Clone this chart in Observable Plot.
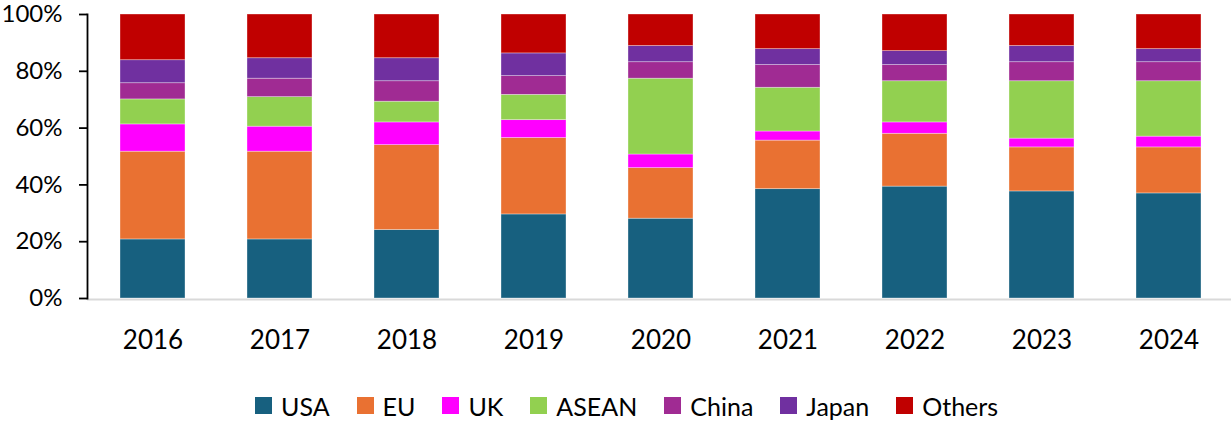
<!DOCTYPE html>
<html>
<head>
<meta charset="utf-8">
<script src="https://cdn.jsdelivr.net/npm/d3@7"></script>
<script src="https://cdn.jsdelivr.net/npm/@observablehq/plot@0.6"></script>
<style>
  html, body { margin: 0; padding: 0; background: #fff; }
  body { width: 1231px; height: 421px; overflow: hidden; font-family: Lato, "Open Sans", sans-serif; }
  #legend { display: flex; align-items: center; height: 59px; margin-top: 14px; padding-left: 255px; box-sizing: border-box; font-size: 25px; color: #000; }
  .item { display: flex; align-items: center; margin-right: 27px; }
  .sw { width: 17px; height: 17px; margin-right: 9px; }
</style>
</head>
<body>
<div id="chart"></div>
<div id="legend"></div>
<script>
const years = ["2016","2017","2018","2019","2020","2021","2022","2023","2024"];
const seriesNames = ["USA","EU","UK","ASEAN","China","Japan","Others"];
const colors = ["#17607f","#e97132","#ff00ff","#92d050","#a02b93","#7030a0","#c00000"];
const USA    = [20.8, 20.8, 24.1, 29.6, 28.1, 38.5, 39.4, 37.7, 37.0];
const EU     = [30.9, 30.9, 29.9, 26.9, 17.8, 17.1, 18.6, 15.5, 16.2];
const UK     = [ 9.6,  8.8,  8.0,  6.3,  4.8,  3.2,  4.0,  3.1,  3.8];
const ASEAN  = [ 8.8, 10.4,  7.3,  8.9, 26.7, 15.4, 14.5, 20.2, 19.5];
const China  = [ 5.7,  6.5,  7.2,  6.6,  5.8,  8.0,  5.7,  6.7,  6.7];
const Japan  = [ 8.1,  7.2,  8.1,  8.0,  5.7,  5.6,  4.9,  5.7,  4.6];
const Others = [16.1, 15.4, 15.4, 13.7, 11.1, 12.2, 12.9, 11.1, 12.2];
const yTicks = [0, 0.2, 0.4, 0.6, 0.8, 1];

const valuesBySeries = [USA, EU, UK, ASEAN, China, Japan, Others];
const data = [];
seriesNames.forEach((s, i) => {
  years.forEach((y, j) => data.push({year: y, series: s, value: valuesBySeries[i][j]}));
});

const chart = Plot.plot({
  width: 1231,
  height: 362,
  marginTop: 14,
  marginBottom: 64,
  marginLeft: 87,
  marginRight: -3,
  style: {fontFamily: "Lato, 'Open Sans', sans-serif", color: "#000", background: "#fff", overflow: "visible"},
  x: {domain: years, paddingInner: 0.49, paddingOuter: 0.245, align: 0.5, label: null},
  y: {domain: [0, 1], label: null},
  color: {domain: seriesNames, range: colors},
  marks: [
    Plot.barY(data, Plot.stackY({offset: "normalize"}, {
      x: "year", y: "value", fill: "series",
      stroke: "#ffffff", strokeOpacity: 0.45, strokeWidth: 0.75
    })),
    Plot.ruleY([0], {stroke: "#d9d9d9", strokeWidth: 2, dy: 1}),
    Plot.frame({anchor: "left", stroke: "#000", strokeWidth: 1.8}),
    Plot.axisY({ticks: yTicks, tickFormat: d3.format(".0%"), tickSize: 8, tickPadding: 17,
      fontSize: 24, stroke: "#000", strokeWidth: 1.8, strokeOpacity: 1, label: null}),
    Plot.axisX({tickSize: 0, tickPadding: 32, fontSize: 26, label: null})
  ]
});
document.getElementById("chart").appendChild(chart);

const legend = document.getElementById("legend");
seriesNames.forEach((s, i) => {
  const item = document.createElement("div");
  item.className = "item";
  const sw = document.createElement("div");
  sw.className = "sw";
  sw.style.background = colors[i];
  const t = document.createElement("span");
  t.textContent = s;
  item.appendChild(sw);
  item.appendChild(t);
  legend.appendChild(item);
});
</script>
</body>
</html>
